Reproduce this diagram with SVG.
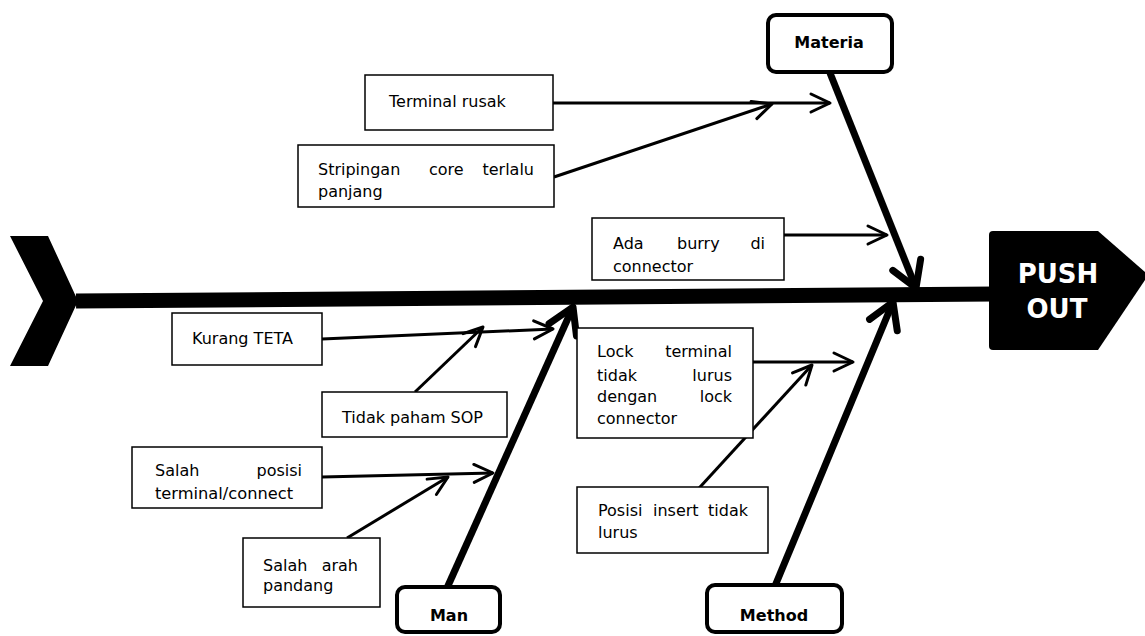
<svg xmlns="http://www.w3.org/2000/svg" width="1145" height="636" viewBox="0 0 1145 636">
<style>
.t{font-family:"DejaVu Sans",Verdana,sans-serif;font-size:16px;fill:#000}
.b{font-family:"DejaVu Sans",Verdana,sans-serif;font-size:16px;font-weight:bold;fill:#000;text-anchor:middle}
.h{font-family:"DejaVu Sans",Verdana,sans-serif;font-size:26px;font-weight:bold;fill:#fff;text-anchor:middle}
.box{fill:#fff;stroke:#000;stroke-width:1.5}
.cat{fill:#fff;stroke:#000;stroke-width:4}
.thin{fill:none;stroke:#000;stroke-width:3;marker-end:url(#ah)}
.bone{fill:none;stroke:#000;stroke-width:7;marker-end:url(#ahb)}
</style>
<defs>
<marker id="ah" viewBox="-24 -13 28 26" refX="0" refY="0" markerWidth="28" markerHeight="26" markerUnits="userSpaceOnUse" orient="auto" overflow="visible"><path d="M-19,-9 L0,0 L-19,9" fill="none" stroke="#000" stroke-width="3" stroke-linecap="round" stroke-linejoin="round"/></marker>
<marker id="ahb" viewBox="-32 -20 38 40" refX="0" refY="0" markerWidth="38" markerHeight="40" markerUnits="userSpaceOnUse" orient="auto" overflow="visible"><path d="M-25,-15 L0,0 L-25,15" fill="none" stroke="#000" stroke-width="7" stroke-linecap="round" stroke-linejoin="round"/></marker>
<clipPath id="c2"><rect x="298" y="145" width="256" height="55"/></clipPath>
<clipPath id="c6"><rect x="132" y="447" width="190" height="53"/></clipPath>
</defs>
<rect width="1145" height="636" fill="#fff"/>

<g id="spine">
<polygon points="10,236 48,236 78,301 48,366 10,366 43,301" fill="#000"/>
<line x1="76" y1="301" x2="995" y2="294" stroke="#000" stroke-width="15"/>
</g>

<g id="head">
<path d="M993,231 L1098,231 L1145,272 L1145,280 L1098,350 L993,350 Q989,350 989,346 L989,235 Q989,231 993,231 Z" fill="#000"/>
<text class="h" x="1058" y="283">PUSH</text>
<text class="h" x="1057" y="318">OUT</text>
</g>

<g id="connectors">
<line class="bone" x1="830" y1="73" x2="916" y2="288"/>
<line class="bone" x1="447" y1="588" x2="573" y2="307"/>
<line class="bone" x1="775" y1="586" x2="893" y2="302"/>
<line class="thin" x1="553" y1="103" x2="830" y2="103"/>
<line class="thin" x1="554" y1="177" x2="772" y2="104"/>
<line class="thin" x1="784" y1="235" x2="887" y2="235"/>
<line class="thin" x1="322" y1="339" x2="553" y2="329"/>
<line class="thin" x1="415" y1="392" x2="483" y2="327"/>
<line class="thin" x1="322" y1="477" x2="493" y2="473"/>
<line class="thin" x1="347" y1="538" x2="448" y2="477"/>
<line class="thin" x1="753" y1="362" x2="853" y2="362"/>
<line class="thin" x1="690" y1="498" x2="812" y2="365"/>
</g>

<g id="materia">
<rect class="cat" x="768" y="15" width="124" height="57" rx="8"/>
<text class="b" x="829" y="48">Materia</text>
</g>
<g id="man">
<rect class="cat" x="397" y="587" width="103" height="45" rx="8"/>
<text class="b" x="449" y="621">Man</text>
</g>
<g id="method">
<rect class="cat" x="707" y="585" width="135" height="47" rx="8"/>
<text class="b" x="774" y="621">Method</text>
</g>

<g id="terminal-rusak">
<rect class="box" x="365" y="75" width="188" height="55"/>
<text class="t" x="389" y="107">Terminal rusak</text>
</g>
<g id="stripingan">
<rect class="box" x="298" y="145" width="256" height="62"/>
<g clip-path="url(#c2)">
<text class="t" y="175"><tspan x="318">Stripingan</tspan><tspan x="429">core</tspan><tspan x="534" text-anchor="end">terlalu</tspan></text>
<text class="t" x="318" y="197">panjang</text>
</g>
</g>
<g id="ada-burry">
<rect class="box" x="592" y="218" width="192" height="62"/>
<text class="t" y="249"><tspan x="613">Ada</tspan><tspan x="677">burry</tspan><tspan x="765" text-anchor="end">di</tspan></text>
<text class="t" x="613" y="272">connector</text>
</g>
<g id="kurang-teta">
<rect class="box" x="172" y="313" width="150" height="52"/>
<text class="t" x="192" y="344">Kurang TETA</text>
</g>
<g id="tidak-paham">
<rect class="box" x="322" y="392" width="185" height="45"/>
<text class="t" x="342" y="423">Tidak paham SOP</text>
</g>
<g id="salah-posisi">
<rect class="box" x="132" y="447" width="190" height="61"/>
<g clip-path="url(#c6)">
<text class="t" y="476"><tspan x="155">Salah</tspan><tspan x="302" text-anchor="end">posisi</tspan></text>
<text class="t" x="155" y="499" textLength="138" lengthAdjust="spacingAndGlyphs">terminal/connect</text>
</g>
</g>
<g id="salah-arah">
<rect class="box" x="243" y="538" width="137" height="69"/>
<text class="t" y="571"><tspan x="263">Salah</tspan><tspan x="358" text-anchor="end">arah</tspan></text>
<text class="t" x="263" y="591">pandang</text>
</g>
<g id="lock-terminal">
<rect class="box" x="577" y="328" width="176" height="110"/>
<text class="t" y="357"><tspan x="597">Lock</tspan><tspan x="732" text-anchor="end">terminal</tspan></text>
<text class="t" y="381"><tspan x="597">tidak</tspan><tspan x="732" text-anchor="end">lurus</tspan></text>
<text class="t" y="402"><tspan x="597">dengan</tspan><tspan x="732" text-anchor="end">lock</tspan></text>
<text class="t" x="597" y="424">connector</text>
</g>
<g id="posisi-insert">
<rect class="box" x="577" y="487" width="191" height="66"/>
<text class="t" y="516"><tspan x="598">Posisi</tspan><tspan x="653">insert</tspan><tspan x="748" text-anchor="end">tidak</tspan></text>
<text class="t" x="598" y="538">lurus</text>
</g>
</svg>
